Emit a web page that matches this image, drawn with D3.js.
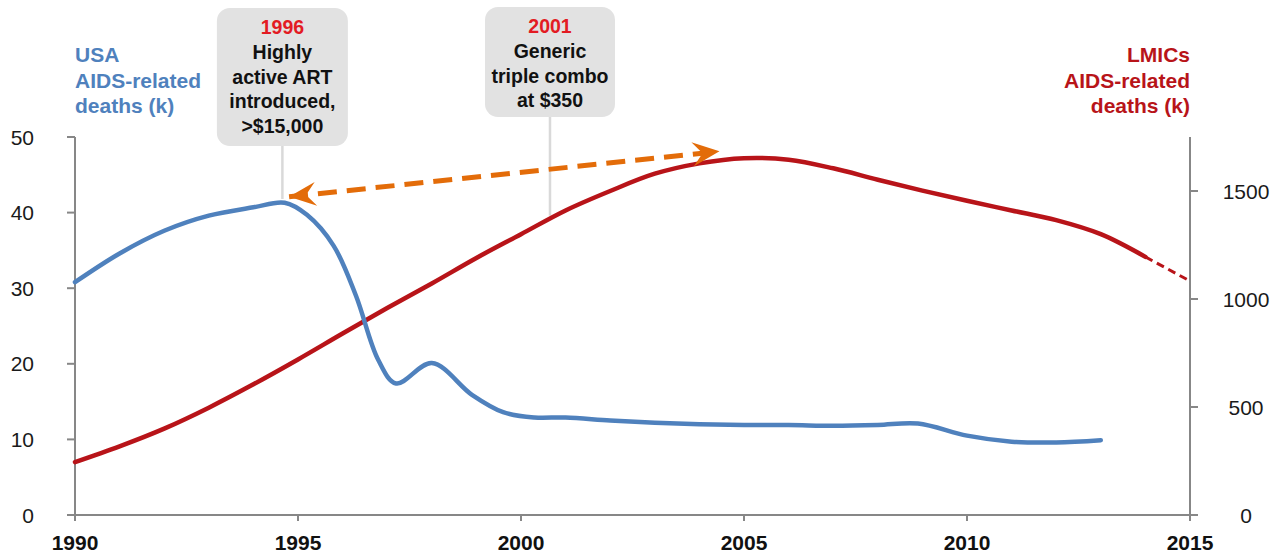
<!DOCTYPE html>
<meta charset="utf-8">
<style>
  body {
    margin: 0;
    background: #fff;
    font-family: "Liberation Sans", Arial, sans-serif;
  }
  svg { display: block; }
  .tick-label { font-size: 21px; fill: #1a1a1a; }
  .year-label { font-size: 21px; font-weight: bold; fill: #111; }
  .axis-line { stroke: #878787; stroke-width: 2; fill: none; }
  .note text { font-size: 19.5px; font-weight: bold; text-anchor: middle; }
</style>
<body>
  <svg id="chart" width="1281" height="554"></svg>

  <script src="https://d3js.org/d3.v7.min.js"></script>
  <script>
    // USA AIDS-related deaths (thousands), left axis
    const usaYears  = [1990, 1991, 1992, 1993, 1994, 1994.7, 1995.2, 1995.8, 1996.3, 1996.8, 1997.2, 1998, 1998.9, 1999.6, 2000.3, 2001, 2002, 2003, 2004, 2005, 2006, 2007, 2008, 2008.9, 2010, 2011, 2012, 2013];
    const usaDeaths = [30.8, 34.6, 37.6, 39.6, 40.7, 41.3, 39.7, 35.6, 29.0, 20.5, 17.4, 20.1, 15.9, 13.6, 12.9, 12.9, 12.5, 12.2, 12.0, 11.9, 11.9, 11.8, 11.9, 12.1, 10.5, 9.7, 9.6, 9.9];

    // LMICs AIDS-related deaths (thousands), right axis
    const lmicYears  = [1990, 1991, 1992, 1993, 1994, 1995, 1996, 1997, 1998, 1999, 2000, 2001, 2002, 2003, 2004, 2005, 2006, 2007, 2008, 2009, 2010, 2011, 2012, 2013, 2014];
    const lmicDeaths = [245, 318, 400, 497, 605, 720, 840, 958, 1072, 1190, 1300, 1410, 1500, 1580, 1628, 1652, 1645, 1605, 1552, 1502, 1455, 1410, 1365, 1300, 1195];
    const projYears  = [2014, 2015];
    const projDeaths = [1195, 1083];

    const xTicks = [1990, 1995, 2000, 2005, 2010, 2015];
    const leftTicks = [0, 10, 20, 30, 40, 50];
    const rightTicks = [0, 500, 1000, 1500];

    const notes = [
      { year: "1996", lines: ["Highly", "active ART", "introduced,", ">$15,000"], x: 1994.65, y: 41.4, axis: "left" },
      { year: "2001", lines: ["Generic", "triple combo", "at $350"], x: 2000.65, y: 1372, axis: "right" }
    ];
    // double-headed arrow, in left-axis units
    const arrowFrom = { x: 1994.8, y: 42.1 };
    const arrowTo = { x: 2004.45, y: 48.1 };

    const blue = "#4f81bd", red = "#b81419", orange = "#e36c09";
    const svg = d3.select("#chart");

    const x = d3.scaleLinear().domain([1990, 2015]).range([75, 1190]);
    const yL = d3.scaleLinear().domain([0, 50]).range([515, 137]);
    const yR = d3.scaleLinear().domain([0, 1750]).range([515, 137]);

    // axes
    const axisG = svg.append("g");
    axisG.append("line").attr("class", "axis-line")
      .attr("x1", x(1990)).attr("x2", x(1990)).attr("y1", yL(50)).attr("y2", yL(0) + 2);
    axisG.append("line").attr("class", "axis-line")
      .attr("x1", x(2015)).attr("x2", x(2015)).attr("y1", yR(1750)).attr("y2", yR(0) + 6);
    axisG.append("line").attr("class", "axis-line")
      .attr("x1", x(1990) - 8).attr("x2", x(2015) + 8).attr("y1", yL(0)).attr("y2", yL(0));

    axisG.selectAll(".lt").data(leftTicks).join("line").attr("class", "axis-line")
      .attr("x1", x(1990) - 8).attr("x2", x(1990)).attr("y1", d => yL(d)).attr("y2", d => yL(d));
    axisG.selectAll(".ltl").data(leftTicks).join("text").attr("class", "tick-label")
      .attr("x", 34).attr("y", d => yL(d)).attr("dy", "0.36em").attr("text-anchor", "end")
      .text(d => d);

    axisG.selectAll(".rt").data(rightTicks).join("line").attr("class", "axis-line")
      .attr("x1", x(2015)).attr("x2", x(2015) + 8).attr("y1", d => yR(d)).attr("y2", d => yR(d));
    axisG.selectAll(".rtl").data(rightTicks).join("text").attr("class", "tick-label")
      .attr("x", 1246).attr("y", d => yR(d)).attr("dy", "0.36em").attr("text-anchor", "middle")
      .text(d => d);

    axisG.selectAll(".xt").data(xTicks).join("line").attr("class", "axis-line")
      .attr("x1", d => x(d)).attr("x2", d => x(d)).attr("y1", yL(0)).attr("y2", yL(0) + 6);
    axisG.selectAll(".xtl").data(xTicks).join("text").attr("class", "year-label")
      .attr("x", d => x(d)).attr("y", 550).attr("text-anchor", "middle")
      .text(d => d);

    // axis titles
    const leftTitle = ["USA", "AIDS-related", "deaths (k)"];
    const rightTitle = ["LMICs", "AIDS-related", "deaths (k)"];
    svg.append("text").attr("x", 75).attr("y", 62)
      .attr("fill", blue).attr("font-size", 21).attr("font-weight", "bold")
      .selectAll("tspan").data(leftTitle).join("tspan")
      .attr("x", 75).attr("dy", (d, i) => i ? 25.5 : 0).text(d => d);
    svg.append("text").attr("x", 1190).attr("y", 62).attr("text-anchor", "end")
      .attr("fill", red).attr("font-size", 21).attr("font-weight", "bold")
      .selectAll("tspan").data(rightTitle).join("tspan")
      .attr("x", 1190).attr("dy", (d, i) => i ? 25.5 : 0).text(d => d);

    // annotation boxes + leader lines
    const boxes = [
      { top: 8, w: 131, h: 138 },
      { top: 7, w: 130, h: 110 }
    ];
    notes.forEach((n, i) => {
      const b = boxes[i];
      const cx = x(n.x);
      const yEnd = n.axis === "left" ? yL(n.y) : yR(n.y);
      const g = svg.append("g").attr("class", "note");
      g.append("line")
        .attr("x1", cx).attr("x2", cx).attr("y1", b.top + b.h).attr("y2", yEnd - 3)
        .attr("stroke", "#d9d9d9").attr("stroke-width", 2.5);
      g.append("rect")
        .attr("x", cx - b.w / 2).attr("y", b.top).attr("width", b.w).attr("height", b.h)
        .attr("rx", 13).attr("fill", "#e2e2e2");
      g.append("text").attr("x", cx).attr("y", b.top + 26)
        .attr("fill", "#e31b23").text(n.year);
      g.selectAll(".ln").data(n.lines).join("text")
        .attr("x", cx).attr("y", (d, j) => b.top + 51 + j * 24.5)
        .attr("fill", "#111").text(d => d);
    });

    // series
    const lineL = d3.line().x(d => x(d[0])).y(d => yL(d[1])).curve(d3.curveCatmullRom.alpha(0.5));
    const lineR = d3.line().x(d => x(d[0])).y(d => yR(d[1])).curve(d3.curveCatmullRom.alpha(0.5));

    svg.append("path")
      .attr("d", lineR(lmicYears.map((yr, i) => [yr, lmicDeaths[i]])))
      .attr("fill", "none").attr("stroke", red).attr("stroke-width", 4.5)
      .attr("stroke-linecap", "round");
    svg.append("path")
      .attr("d", lineR(projYears.map((yr, i) => [yr, projDeaths[i]])))
      .attr("fill", "none").attr("stroke", red).attr("stroke-width", 3)
      .attr("stroke-dasharray", "8,5");

    svg.append("path")
      .attr("d", lineL(usaYears.map((yr, i) => [yr, usaDeaths[i]])))
      .attr("fill", "none").attr("stroke", blue).attr("stroke-width", 4.5)
      .attr("stroke-linecap", "round");

    // orange double-headed dashed arrow
    const defs = svg.append("defs");
    defs.append("marker")
      .attr("id", "stealth")
      .attr("markerUnits", "userSpaceOnUse")
      .attr("viewBox", "-28 -14 30 28")
      .attr("markerWidth", 30).attr("markerHeight", 28)
      .attr("refX", 0).attr("refY", 0)
      .attr("orient", "auto-start-reverse")
      .append("path")
      .attr("d", "M0,0 L-27,-12 L-17,0 L-27,12 Z")
      .attr("fill", orange);

    svg.append("line")
      .attr("x1", x(arrowFrom.x)).attr("y1", yL(arrowFrom.y))
      .attr("x2", x(arrowTo.x)).attr("y2", yL(arrowTo.y))
      .attr("stroke", orange).attr("stroke-width", 5)
      .attr("stroke-dasharray", "19,10")
      .attr("marker-start", "url(#stealth)")
      .attr("marker-end", "url(#stealth)");
  </script>
</body>
